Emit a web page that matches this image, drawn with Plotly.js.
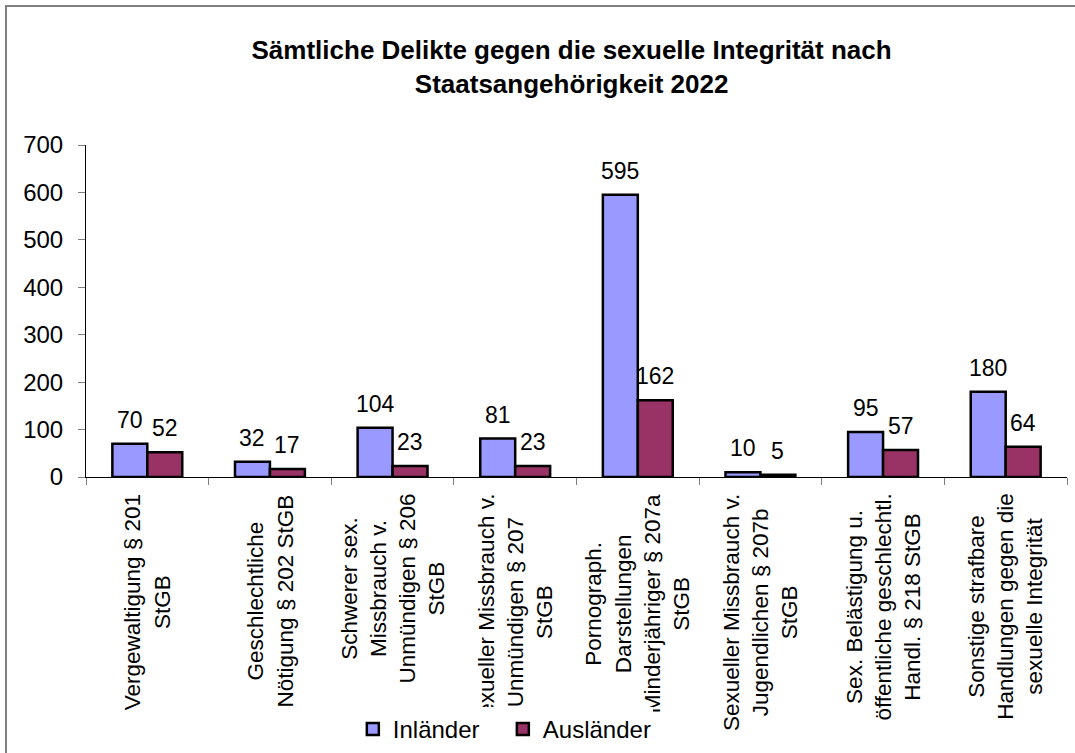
<!DOCTYPE html>
<html>
<head>
<meta charset="utf-8">
<script src="https://cdn.plot.ly/plotly-3.0.1.min.js"></script>
<style>
  html, body { margin: 0; padding: 0; background: #fff; }
  #wrap { position: relative; width: 1075px; height: 753px; overflow: hidden; }
  #chart { width: 1075px; height: 753px; }
  #frame { position: absolute; left: 5px; top: 5px; width: 1100px; height: 800px;
           border: 2px solid #808080; pointer-events: none; box-sizing: border-box; }
</style>
</head>
<body>
<div id="wrap">
  <div id="chart"></div>
  <div id="frame"></div>
</div>
<script>
const categories = [
  "Vergewaltigung § 201<br>StGB",
  "Geschlechtliche<br>Nötigung § 202 StGB",
  "Schwerer sex.<br>Missbrauch v.<br>Unmündigen § 206<br>StGB",
  "Sexueller Missbrauch v.<br>Unmündigen § 207<br>StGB",
  "Pornograph.<br>Darstellungen<br>Minderjähriger § 207a<br>StGB",
  "Sexueller Missbrauch v.<br>Jugendlichen § 207b<br>StGB",
  "Sex. Belästigung u.<br>öffentliche geschlechtl.<br>Handl. § 218 StGB",
  "Sonstige strafbare<br>Handlungen gegen die<br>sexuelle Integrität"
];
const inlaender = [70, 32, 104, 81, 595, 10, 95, 180];
const auslaender = [52, 17, 23, 23, 162, 5, 57, 64];
const seriesNames = ["Inländer", "Ausländer"];
const titleText = "Sämtliche Delikte gegen die sexuelle Integrität nach<br>Staatsangehörigkeit 2022";

const FONT = "Liberation Sans, Arial, sans-serif";
const bargap = 0.43;
const barW = (1 - bargap) / 2;

const traces = [
  { type: "bar", name: seriesNames[0], x: categories, y: inlaender,
    marker: { color: "#9999FF", line: { color: "#000000", width: 2.5 } }, hoverinfo: "y" },
  { type: "bar", name: seriesNames[1], x: categories, y: auslaender,
    marker: { color: "#993366", line: { color: "#000000", width: 2.5 } }, hoverinfo: "y" }
];

const annotations = [];
[inlaender, auslaender].forEach((vals, s) => {
  const off = (s === 0 ? -1 : 1) * barW / 2;
  vals.forEach((v, i) => {
    annotations.push({
      x: i + off, y: v, xref: "x", yref: "y", text: String(v),
      showarrow: false, yanchor: "bottom", xanchor: "center", yshift: 9,
      font: { family: FONT, size: 23, color: "#000" }
    });
  });
});
categories.forEach((c, i) => {
  annotations.push({
    x: i, y: 0, xref: "x", yref: "paper", text: c, textangle: -90,
    showarrow: false, yanchor: "top", xanchor: "center", align: "center", yshift: -15,
    font: { family: FONT, size: 22.5, color: "#000" }
  });
});

const layout = {
  width: 1075, height: 753,
  paper_bgcolor: "#ffffff", plot_bgcolor: "#ffffff",
  margin: { l: 86, r: 8, t: 145, b: 276, pad: 0, autoexpand: false },
  font: { family: FONT, size: 23, color: "#000" },
  title: { text: titleText, font: { family: FONT, size: 26, color: "#000", weight: "bold" },
           xref: "paper", x: 0.495, xanchor: "center", yref: "container", y: 0.921, yanchor: "middle" },
  barmode: "group", bargap: bargap, bargroupgap: 0,
  showlegend: true,
  legend: { orientation: "h", x: 0.272, xanchor: "left", y: -0.760, yanchor: "middle",
            bgcolor: "#ffffff", font: { family: FONT, size: 24, color: "#000" },
            entrywidth: 105, entrywidthmode: "pixels",
            itemclick: false, itemdoubleclick: false },
  xaxis: { type: "category", showticklabels: false, tickson: "boundaries",
           ticks: "outside", ticklen: 7, tickcolor: "#808080", tickwidth: 1,
           showline: true, linecolor: "#000", linewidth: 1, showgrid: false, zeroline: false,
           fixedrange: true },
  yaxis: { range: [0, 700], dtick: 100, tick0: 0, ticks: "outside", ticklen: 7,
           tickcolor: "#808080", tickwidth: 1, ticklabelstandoff: 10,
           showline: true, linecolor: "#000", linewidth: 1, showgrid: false, zeroline: false,
           tickfont: { family: FONT, size: 24, color: "#000" }, fixedrange: true },
  annotations: annotations
};

const gd = document.getElementById("chart");
Plotly.newPlot(gd, traces, layout, { displayModeBar: false, staticPlot: true }).then(() => {
  // draw the legend on top of the category labels (as in the original chart)
  const leg = gd.querySelector("g.legend");
  const svgs = gd.querySelectorAll("svg.main-svg");
  if (leg && svgs.length) svgs[svgs.length - 1].appendChild(leg);
});
</script>
</body>
</html>
